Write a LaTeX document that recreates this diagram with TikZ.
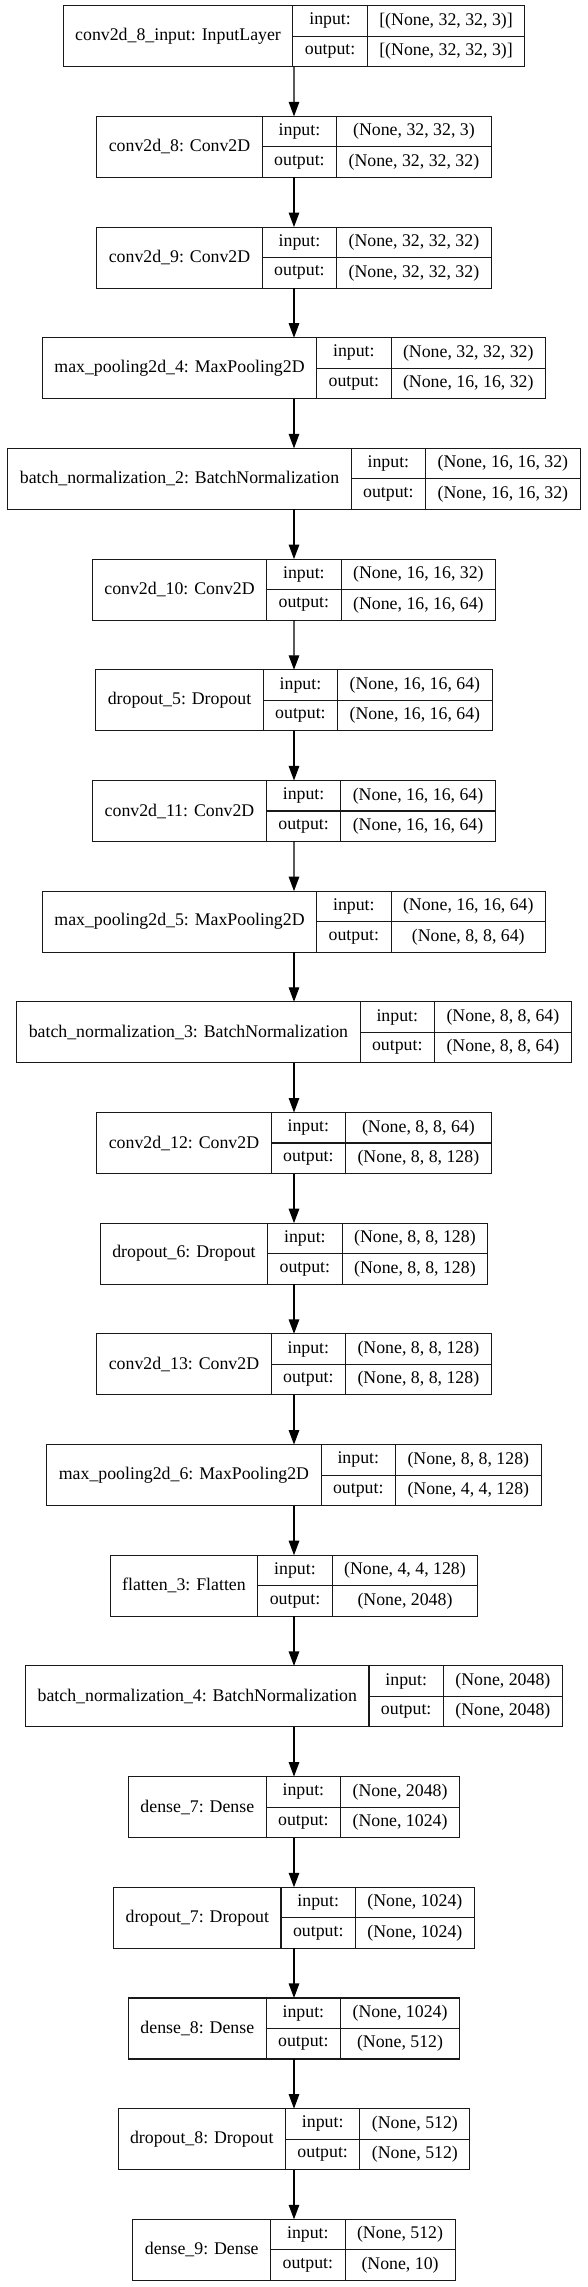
\documentclass[tikz,border=0pt]{standalone}
\usepackage{fontspec}
\setmainfont{Liberation Serif}
\usetikzlibrary{arrows.meta}
\usetikzlibrary{calc, fit, positioning}
\newlength{\lblw}
\newlength{\iow}
\newlength{\valw}
\newlength{\valwb}
\newcommand{\cellfont}{\fontsize{17.8}{20}\selectfont}
\newcommand{\cellpad}{24}
\tikzstyle{cell} = [draw=black!90, line width=1.1pt, inner sep=0pt, outer sep=0pt, minimum height=30.5pt, text centered, font=\cellfont]
\tikzstyle{arrow} = [draw=black, line width=1.3pt, -{Triangle[length=14.5pt, width=10.5pt]}]

% text widths of one layer, measured outside the picture
\newcommand{\measure}[3]{%
  \begin{pgfinterruptpicture}%
    \settowidth{\lblw}{\cellfont #1}\global\lblw=\lblw
    \settowidth{\iow}{\cellfont output:}\global\iow=\iow
    \settowidth{\valw}{\cellfont #2}%
    \settowidth{\valwb}{\cellfont #3}%
    \ifdim\valwb>\valw \setlength{\valw}{\valwb}\fi
    \global\valw=\valw
  \end{pgfinterruptpicture}%
}

% one keras layer: name, row, label, input shape, output shape
\newcommand{\layer}[5]{%
  \measure{#3}{#4}{#5}%
  \pgfmathsetmacro{\leftx}{294 - (\lblw + \iow + \valw + 3*\cellpad)/2}%
  \pgfmathsetmacro{\topy}{-5.7 - #2*110.68}%
  \node[cell, anchor=north west, minimum height=61pt, minimum width=\lblw+\cellpad] (#1-lbl) at (\leftx, \topy) {#3};
  \node[cell, anchor=north west, minimum width=\iow+\cellpad] (#1-in) at (#1-lbl.north east) {input:};
  \node[cell, anchor=north west, minimum width=\iow+\cellpad] (#1-out) at (#1-in.south west) {output:};
  \node[cell, anchor=north west, minimum width=\valw+\cellpad] (#1-inv) at (#1-in.north east) {#4};
  \node[cell, anchor=north west, minimum width=\valw+\cellpad] (#1-outv) at (#1-inv.south west) {#5};
  \node[fit=(#1-lbl)(#1-outv), inner sep=0pt, outer sep=0pt] (#1) {};
}

\begin{document}
\begin{tikzpicture}[x=1pt, y=1pt]
	\useasboundingbox (0,0) rectangle (588,-2287);

	% Layers
	\layer{input}{0}{conv2d\_8\_input: InputLayer}{[(None, 32, 32, 3)]}{[(None, 32, 32, 3)]}
	\layer{conv8}{1}{conv2d\_8: Conv2D}{(None, 32, 32, 3)}{(None, 32, 32, 32)}
	\layer{conv9}{2}{conv2d\_9: Conv2D}{(None, 32, 32, 32)}{(None, 32, 32, 32)}
	\layer{pool4}{3}{max\_pooling2d\_4: MaxPooling2D}{(None, 32, 32, 32)}{(None, 16, 16, 32)}
	\layer{bn2}{4}{batch\_normalization\_2: BatchNormalization}{(None, 16, 16, 32)}{(None, 16, 16, 32)}
	\layer{conv10}{5}{conv2d\_10: Conv2D}{(None, 16, 16, 32)}{(None, 16, 16, 64)}
	\layer{drop5}{6}{dropout\_5: Dropout}{(None, 16, 16, 64)}{(None, 16, 16, 64)}
	\layer{conv11}{7}{conv2d\_11: Conv2D}{(None, 16, 16, 64)}{(None, 16, 16, 64)}
	\layer{pool5}{8}{max\_pooling2d\_5: MaxPooling2D}{(None, 16, 16, 64)}{(None, 8, 8, 64)}
	\layer{bn3}{9}{batch\_normalization\_3: BatchNormalization}{(None, 8, 8, 64)}{(None, 8, 8, 64)}
	\layer{conv12}{10}{conv2d\_12: Conv2D}{(None, 8, 8, 64)}{(None, 8, 8, 128)}
	\layer{drop6}{11}{dropout\_6: Dropout}{(None, 8, 8, 128)}{(None, 8, 8, 128)}
	\layer{conv13}{12}{conv2d\_13: Conv2D}{(None, 8, 8, 128)}{(None, 8, 8, 128)}
	\layer{pool6}{13}{max\_pooling2d\_6: MaxPooling2D}{(None, 8, 8, 128)}{(None, 4, 4, 128)}
	\layer{flat3}{14}{flatten\_3: Flatten}{(None, 4, 4, 128)}{(None, 2048)}
	\layer{bn4}{15}{batch\_normalization\_4: BatchNormalization}{(None, 2048)}{(None, 2048)}
	\layer{dense7}{16}{dense\_7: Dense}{(None, 2048)}{(None, 1024)}
	\layer{drop7}{17}{dropout\_7: Dropout}{(None, 1024)}{(None, 1024)}
	\layer{dense8}{18}{dense\_8: Dense}{(None, 1024)}{(None, 512)}
	\layer{drop8}{19}{dropout\_8: Dropout}{(None, 512)}{(None, 512)}
	\layer{dense9}{20}{dense\_9: Dense}{(None, 512)}{(None, 10)}

	% Arrows
	\foreach \a/\b in {input/conv8, conv8/conv9, conv9/pool4, pool4/bn2, bn2/conv10, conv10/drop5, drop5/conv11, conv11/pool5, pool5/bn3, bn3/conv12, conv12/drop6, drop6/conv13, conv13/pool6, pool6/flat3, flat3/bn4, bn4/dense7, dense7/drop7, drop7/dense8, dense8/drop8, drop8/dense9}
		\draw[arrow] (\a.south) -- (\b.north);
\end{tikzpicture}
\end{document}
